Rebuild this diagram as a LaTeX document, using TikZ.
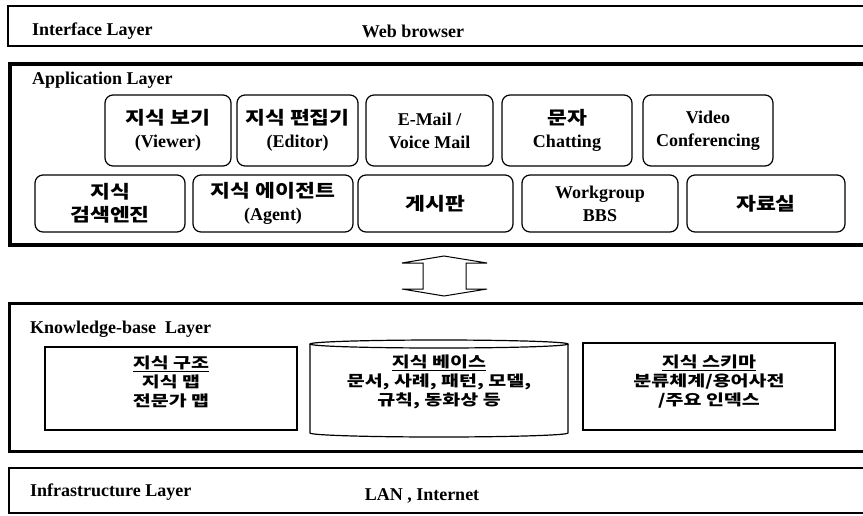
\documentclass[tikz,border=0pt]{standalone}
\usepackage{fontspec}
\setmainfont{Liberation Serif}
\newfontfamily\kr[FakeStretch=1.2]{Noto Sans CJK KR}
\newfontfamily\krw[FakeStretch=1.3]{Noto Sans CJK KR}
\usetikzlibrary{positioning}

\tikzset{
  layerbox/.style={draw, rectangle, outer sep=0pt, inner sep=0pt, anchor=north west, minimum width=880pt},
  layertitle/.style={font=\fontsize{18}{20}\selectfont\bfseries, inner sep=0pt},
  appbox/.style={draw, rounded corners=8pt, line width=1.2pt, align=center, inner sep=0pt, outer sep=0pt,
    font=\fontsize{18}{23}\selectfont\bfseries},
  kbbox/.style={draw, line width=1.2pt, inner sep=0pt, outer sep=0pt},
  kbtext/.style={align=center, inner sep=0pt, font=\krw\fontsize{15}{19}\selectfont\bfseries}
}

\begin{document}
\begin{tikzpicture}[x=1pt, y=-1pt]
    \useasboundingbox (0,0) rectangle (863,515);
    \clip (0,0) rectangle (863,515);

    % Layers
    \node[layerbox, line width=2pt, minimum height=40pt] (iface) at (8,6) {};
    \node[layerbox, line width=4pt, minimum height=181pt] (app) at (10,64) {};
    \node[layerbox, line width=3pt, minimum height=148pt] (kb) at (9,303) {};
    \node[layerbox, line width=2.5pt, minimum height=45pt] (infra) at (9,468) {};

    \node[layertitle, anchor=west] (ifacet) at (32,31) {Interface Layer};
    \node[layertitle] (web) at (413,31) {Web browser};
    \node[layertitle, anchor=west] (appt) at (32,80) {Application Layer};
    \node[layertitle, anchor=west] (kbt) at (30,329) {Knowledge-base\ \ Layer};
    \node[layertitle, anchor=west] (infrat) at (30,492) {Infrastructure Layer};
    \node[layertitle] (lan) at (422,496) {LAN , Internet};

    % Application services, first row
    \node[appbox, minimum width=126pt, minimum height=71pt] (view) at (168,130.5) {{\kr 지식 보기}\\(Viewer)};
    \node[appbox, minimum width=121pt, minimum height=71pt, right=6pt of view] (edit) {{\kr 지식 편집기}\\(Editor)};
    \node[appbox, minimum width=127pt, minimum height=71pt, right=8pt of edit] (mail) {E-Mail /\\Voice Mail};
    \node[appbox, minimum width=130pt, minimum height=71pt, right=9pt of mail] (chat) {{\kr 문자}\\Chatting};
    \node[appbox, minimum width=130pt, minimum height=71pt, right=11pt of chat] (video) {Video\\Conferencing};

    % Application services, second row
    \node[appbox, minimum width=150pt, minimum height=57pt] (search) at (110,203.5) {{\kr 지식}\\{\kr 검색엔진}};
    \node[appbox, minimum width=160pt, minimum height=57pt, right=8pt of search] (agent) {{\kr 지식 에이전트}\\(Agent)};
    \node[appbox, minimum width=155pt, minimum height=57pt, right=5pt of agent] (board) {\kr 게시판};
    \node[appbox, minimum width=156pt, minimum height=57pt, right=9pt of board] (bbs) {Workgroup\\BBS};
    \node[appbox, minimum width=158pt, minimum height=57pt, right=9pt of bbs] (data) {\kr 자료실};

    % Two-way arrow between application and knowledge layers
    \coordinate (updn) at (444,276);
    \draw[line width=1pt] (updn) ++(0,-20) -- ++(43,7) -- ++(-21,0) -- ++(0,26) -- ++(21,0)
        -- ++(-43,7) -- ++(-42,-7) -- ++(21,0) -- ++(0,-26) -- ++(-21,0) -- cycle;

    % Knowledge base
    \node[kbbox, minimum width=252pt, minimum height=83pt] (struct) at (171,388.5) {};
    \node[kbtext] (structt) at ([yshift=7pt]struct.center) {\underline{지식 구조}\\지식 맵\\전문가 맵};

    \node[inner sep=0pt, outer sep=0pt, minimum width=258pt, minimum height=97pt] (base) at (439,388.5) {};
    \draw[line width=1.2pt] ([yshift=-4pt]base.north west) -- ([yshift=4pt]base.south west)
        arc (180:360:129pt and 4pt) -- ([yshift=-4pt]base.north east);
    \draw[line width=1.2pt] ([yshift=-4pt]base.north) ellipse (129pt and 4pt);
    \node[kbtext] (baset) at ([yshift=7pt]base.center) {\underline{지식 베이스}\\문서, 사례, 패턴, 모델,\\규칙, 동화상 등};

    \node[kbbox, minimum width=252pt, minimum height=87pt] (schema) at (709,386.5) {};
    \node[kbtext] (schemat) at ([yshift=5pt]schema.center) {\underline{지식 스키마}\\분류체계/용어사전\\/주요 인덱스};
\end{tikzpicture}
\end{document}
